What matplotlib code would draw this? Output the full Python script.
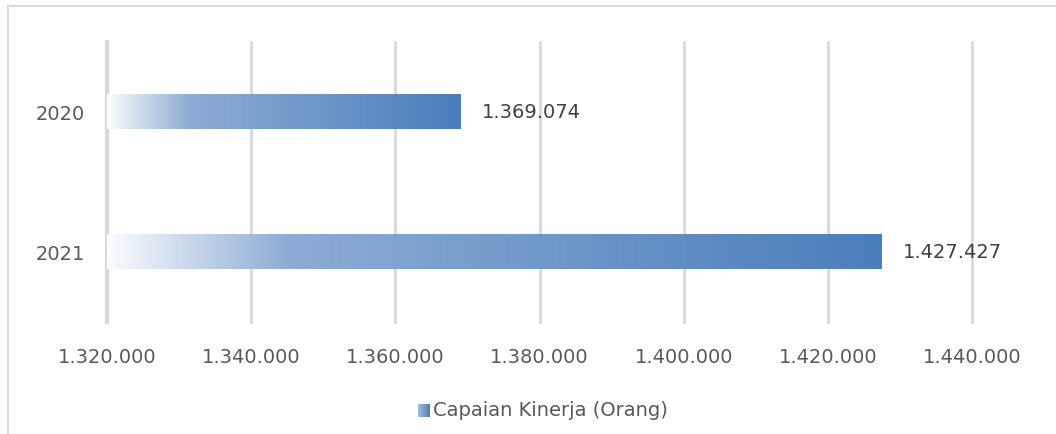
import numpy as np
import matplotlib
matplotlib.use("Agg")
import matplotlib.pyplot as plt
from matplotlib.colors import LinearSegmentedColormap, to_rgba
from matplotlib.patches import Rectangle

# ── Données ────────────────────────────────────────────────────────────────
years = ["2020", "2021"]
capaian = [1369074, 1427427]
x_ticks = [1320000, 1340000, 1360000, 1380000, 1400000, 1420000, 1440000]
legend_label = "Capaian Kinerja (Orang)"

BASE = 1320000
TXT = "#595959"
GRID = "#d4d4d4"
FS = 14

plt.rcParams["font.family"] = ["DejaVu Sans"]

# dégradé style Excel : blanc -> bleu clair (~23 %) -> bleu
grad_cmap = LinearSegmentedColormap.from_list(
    "xl_grad",
    [(0.0, to_rgba("#fafcff")), (0.23, to_rgba("#8eacd5")), (1.0, to_rgba("#4a7ebb"))],
)
grad = np.linspace(0, 1, 512).reshape(1, -1)


def fmt(v):
    return f"{v:,}".replace(",", ".")


fig = plt.figure(figsize=(10.56, 4.34), dpi=100)
ax = fig.add_axes([107 / 1056, 1 - 322 / 434, 865 / 1056, 280 / 434])

ypos = np.arange(len(years))[::-1]          # 2020 en haut
bars = ax.barh(ypos, np.array(capaian) - BASE, left=BASE, height=0.245,
               color="none", edgecolor="none", zorder=3)
for b, v in zip(bars, capaian):
    x0, y0, w, h = b.get_x(), b.get_y(), b.get_width(), b.get_height()
    ax.imshow(grad, cmap=grad_cmap, aspect="auto", interpolation="bilinear",
              extent=[x0, x0 + w, y0, y0 + h], zorder=3)
    ax.text(x0 + w + 3000, y0 + h / 2, fmt(v), va="center", ha="left",
            fontsize=FS, color="#404040")

ax.set_xlim(BASE, 1440000)
ax.set_ylim(-0.5, 1.5)
ax.set_xticks(x_ticks)
ax.set_xticklabels([fmt(t) for t in x_ticks], fontsize=FS, color=TXT)
ax.set_yticks(ypos)
ax.set_yticklabels(years, fontsize=FS, color=TXT)
ax.tick_params(axis="both", length=0)
ax.tick_params(axis="x", pad=19)
ax.tick_params(axis="y", pad=16)
ax.grid(axis="x", color=GRID, linewidth=1.8, zorder=0)
for gl in ax.get_xgridlines():
    gl.set_clip_on(False)
ax.set_axisbelow(True)
for s in ["top", "right", "bottom"]:
    ax.spines[s].set_visible(False)
ax.spines["left"].set_color("#d9d9d9")
ax.spines["left"].set_linewidth(3)

# légende (carré dégradé + texte)
leg_cmap = LinearSegmentedColormap.from_list("leg", ["#a9c0e0", "#4a7ebb"])
lax = fig.add_axes([418 / 1056, 1 - 417 / 434, 12 / 1056, 13 / 434])
lax.imshow(grad, cmap=leg_cmap, aspect="auto", extent=[0, 1, 0, 1])
lax.axis("off")
fig.text(433 / 1056, 1 - 410 / 434, legend_label, fontsize=FS, color=TXT,
         va="center", ha="left")

# cadre du graphique
fig.patches.append(Rectangle((8 / 1056, -0.1), 1.2, 1 - 6 / 434 + 0.1,
                             transform=fig.transFigure, fill=False,
                             edgecolor="#d9d9d9", linewidth=1.5))

fig.savefig("out.png", dpi=100)
